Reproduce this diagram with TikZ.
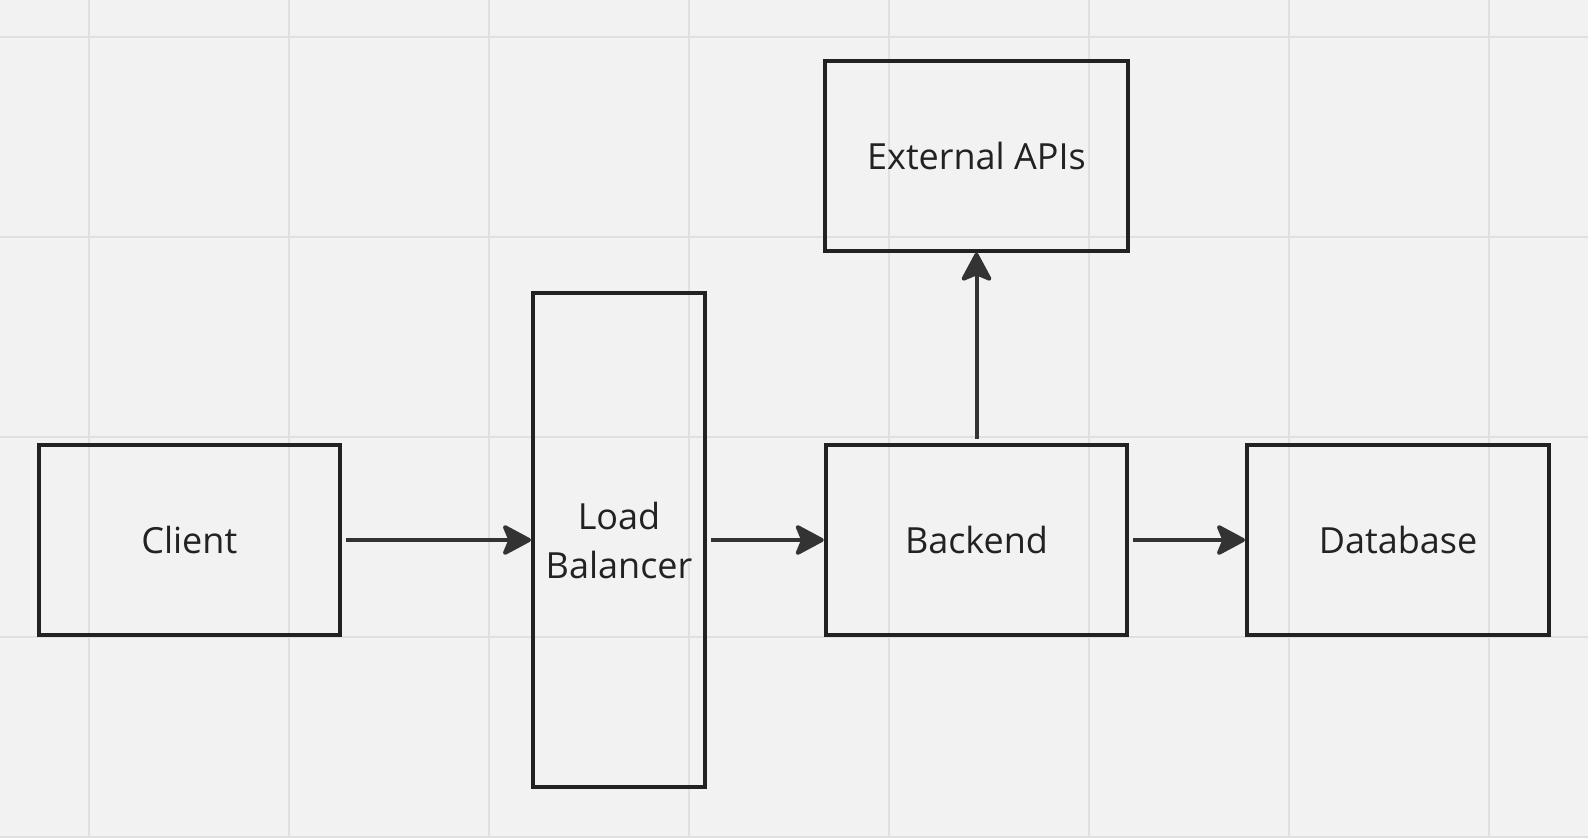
\documentclass[tikz,border=0pt]{standalone}
\usepackage{fontspec}
\setmainfont{Open Sans}
\usetikzlibrary{arrows.meta}
\definecolor{bg}{HTML}{F2F2F2}
\definecolor{gridc}{HTML}{E0E0E0}
\definecolor{boxc}{HTML}{222222}
\definecolor{arrc}{HTML}{333333}
\tikzset{
  block/.style={draw=boxc, line width=4pt, rectangle, inner sep=0pt,
    font=\fontsize{36}{49}\selectfont, text=boxc, align=center},
  conn/.style={draw=arrc, line width=4pt,
    -{Stealth[length=32pt,width=34pt,inset=7pt,line join=round,fill=arrc]}, shorten <=4pt},
}
\begin{document}
\begin{tikzpicture}[x=1pt,y=-1pt]
\fill[bg] (0,0) rectangle (1588,838);
\useasboundingbox (0,0) rectangle (1588,838);
\foreach \gx in {89,289,...,1489} \draw[gridc, line width=2pt] (\gx,0) -- (\gx,838);
\foreach \gy in {37,237,...,837} \draw[gridc, line width=2pt] (0,\gy) -- (1588,\gy);

\node[block, minimum width=301.5pt, minimum height=190.5pt] (client) at (189.25,540) {Client};
\node[block, minimum width=172pt, minimum height=494pt] (lb) at (619,540) {Load\\Balancer};
\node[block, minimum width=301.5pt, minimum height=190.5pt] (backend) at (976.5,540) {Backend};
\node[block, minimum width=302pt, minimum height=190.5pt] (db) at (1398,540) {Database};
\node[block, minimum width=303pt, minimum height=190pt] (ext) at (976.5,155.7) {External APIs};

\draw[conn] (client.east) -- (lb.west);
\draw[conn] (lb.east) -- (backend.west);
\draw[conn] (backend.east) -- (db.west);
\draw[conn] (backend.north) -- (ext.south);
\end{tikzpicture}
\end{document}
